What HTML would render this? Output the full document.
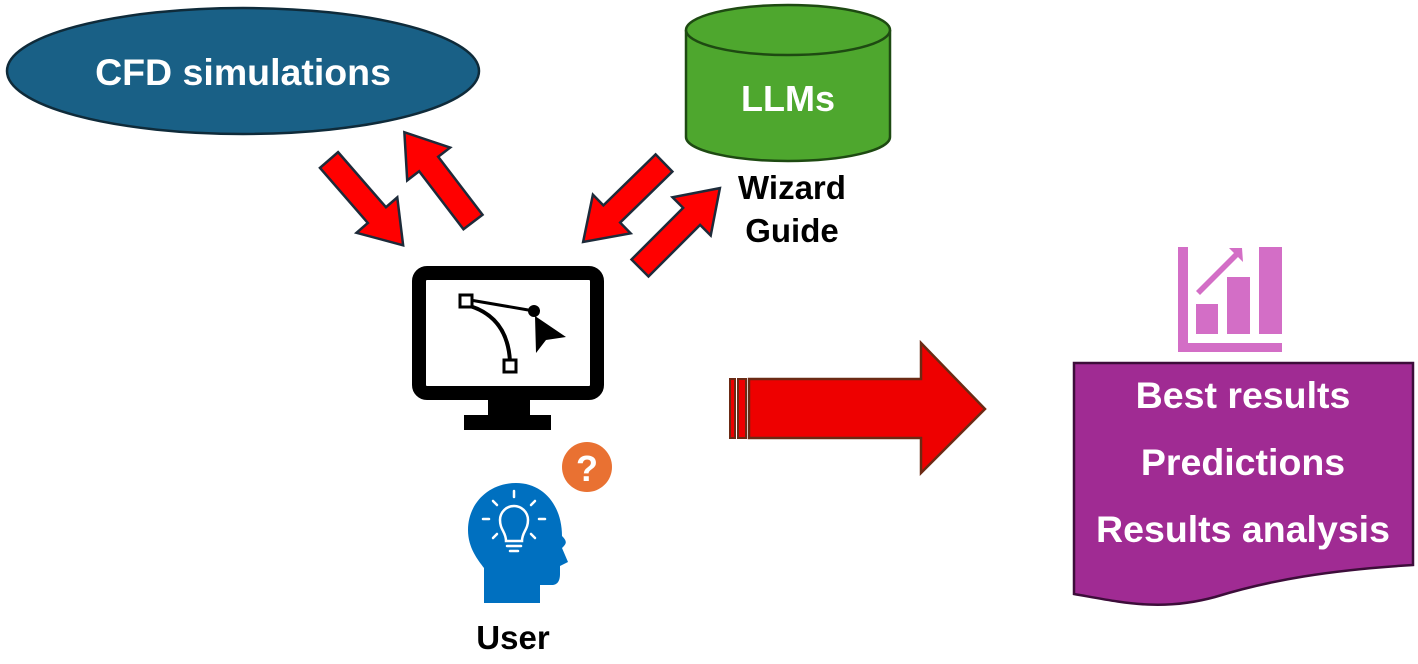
<!DOCTYPE html>
<html><head><meta charset="utf-8"><style>
html,body{margin:0;padding:0;background:#fff;}
svg{display:block;font-family:"Liberation Sans",sans-serif;font-weight:bold;}
</style></head><body>
<svg width="1418" height="664" viewBox="0 0 1418 664" xmlns="http://www.w3.org/2000/svg">
<defs>
<polygon id="arr" points="0,-12 73,-12 73,-27 113,0 73,27 73,12 0,12" fill="#ff0000" stroke="#1d2b3a" stroke-width="2.5" stroke-linejoin="miter"/>
</defs>
<ellipse cx="243" cy="71" rx="236" ry="63" fill="#196086" stroke="#0f2b3a" stroke-width="2.5"/>
<text x="243" y="85" font-size="37.5" fill="#fff" text-anchor="middle">CFD simulations</text>
<path d="M686,30 L686,137 A102,24 0 0 0 890,137 L890,30" fill="#4ea72e" stroke="#1e4a12" stroke-width="2.5"/>
<ellipse cx="788" cy="30" rx="102" ry="25" fill="#4ea72e" stroke="#1e4a12" stroke-width="2.5"/>
<text x="788" y="111" font-size="36" fill="#fff" text-anchor="middle">LLMs</text>
<text x="792" y="199" font-size="33" fill="#000" text-anchor="middle">Wizard</text>
<text x="792" y="242" font-size="33" fill="#000" text-anchor="middle">Guide</text>
<use href="#arr" transform="translate(329,160) rotate(49)"/>
<use href="#arr" transform="translate(473,222) rotate(232.6)"/>
<use href="#arr" transform="translate(664,163) rotate(135.7)"/>
<use href="#arr" transform="translate(640,268) rotate(-45)"/>
<rect x="419" y="273" width="178" height="120" rx="8" fill="#fff" stroke="#000" stroke-width="14"/>
<rect x="488" y="399" width="42" height="18" fill="#000"/>
<rect x="464" y="415" width="87" height="15" fill="#000"/>
<path d="M470,306 Q508,318 510,362" fill="none" stroke="#000" stroke-width="4"/>
<line x1="470" y1="300" x2="534" y2="311" stroke="#000" stroke-width="3"/>
<circle cx="534" cy="311" r="6" fill="#000"/>
<rect x="460" y="295" width="12" height="12" fill="#fff" stroke="#000" stroke-width="3"/>
<rect x="504" y="360" width="12" height="12" fill="#fff" stroke="#000" stroke-width="3"/>
<polygon points="535,316 566,337 546,340 536,353" fill="#000"/>
<path d="M516,483 C488,483 468,504 468,530 C468,548 478,560 484,568 L484,603 L540,603 L540,585 L552,585 C558,585 560,580 560,574 L560,566 L568,562 L562,548 C566,544 568,542 562,536 C562,506 544,483 516,483 Z" fill="#0070c0"/>
<g stroke="#fff" stroke-width="2.5" fill="none" stroke-linecap="round">
<path d="M506,541 C506,532 500,530 500,520 A14,14 0 1 1 528,520 C528,530 522,532 522,541 Z"/>
<line x1="507" y1="546" x2="521" y2="546"/>
<line x1="510" y1="551" x2="518" y2="551"/>
<line x1="514" y1="491" x2="514" y2="497"/>
<line x1="493" y1="501" x2="497" y2="505"/>
<line x1="535" y1="501" x2="531" y2="505"/>
<line x1="483" y1="519" x2="489" y2="519"/>
<line x1="539" y1="519" x2="545" y2="519"/>
<line x1="493" y1="538" x2="497" y2="534"/>
<line x1="535" y1="538" x2="531" y2="534"/>
</g>
<circle cx="587" cy="467" r="25" fill="#e97132"/>
<text x="587" y="481" font-size="36" fill="#fff" text-anchor="middle">?</text>
<text x="513" y="649" font-size="33" fill="#000" text-anchor="middle">User</text>
<polygon points="749,379 921,379 921,343 985,409 921,473 921,438 749,438" fill="#ee0000" stroke="#6b2a14" stroke-width="2.5"/>
<rect x="730" y="379" width="5" height="59" fill="#ee0000" stroke="#6b2a14" stroke-width="2"/>
<rect x="738" y="379" width="8" height="59" fill="#ee0000" stroke="#6b2a14" stroke-width="2"/>
<g fill="#d36ec6">
<rect x="1178" y="247" width="10" height="105"/>
<rect x="1178" y="343" width="104" height="9"/>
<rect x="1196" y="304" width="22" height="30"/>
<rect x="1227" y="277" width="23" height="57"/>
<rect x="1259" y="247" width="23" height="87"/>
<polygon points="1242,248 1243,262 1238,257 1200,295 1196,291 1234,253 1229,248"/>
</g>
<path d="M1074,363 L1413,363 L1413,565 C1330,570 1270,580 1215,597 C1160,612 1120,602 1074,594 Z" fill="#a02b93" stroke="#3d0d3a" stroke-width="2.5"/>
<text x="1243" y="408" font-size="37.5" fill="#fff" text-anchor="middle">Best results</text>
<text x="1243" y="475" font-size="37.5" fill="#fff" text-anchor="middle">Predictions</text>
<text x="1243" y="542" font-size="37.5" fill="#fff" text-anchor="middle">Results analysis</text>
</svg>
</body></html>
